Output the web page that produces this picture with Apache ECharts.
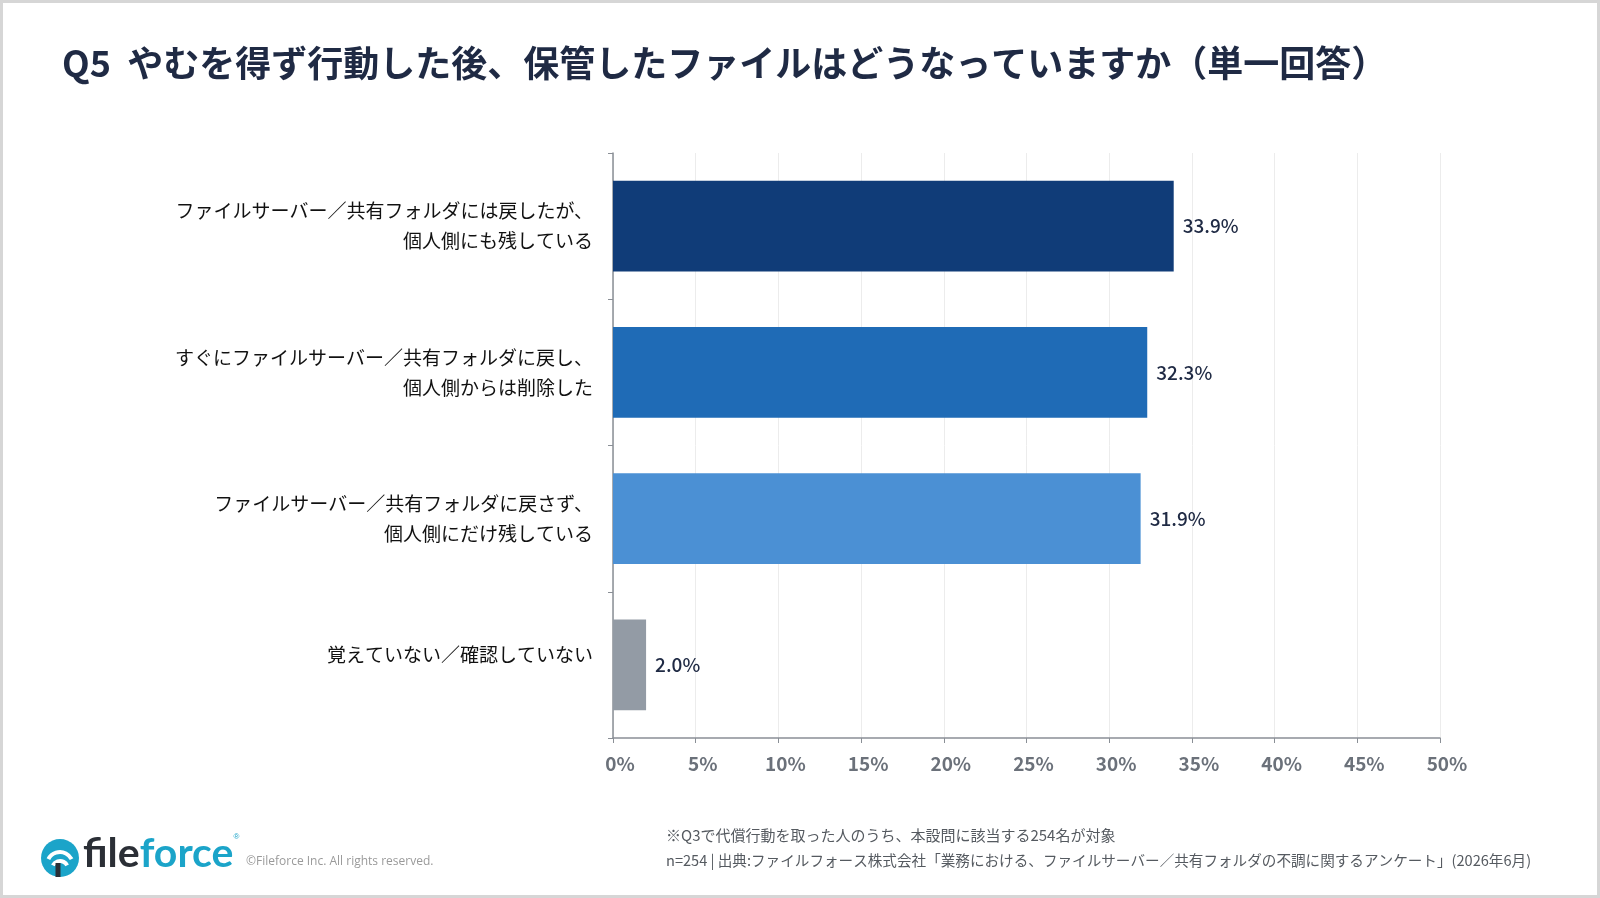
<!DOCTYPE html>
<html>
<head>
<meta charset="utf-8">
<script src="https://cdn.jsdelivr.net/npm/echarts@6/dist/echarts.min.js"></script>
<style>
  html, body { margin: 0; padding: 0; background: #fff; }
  #main { width: 1600px; height: 898px; box-sizing: border-box; border: 3px solid #d6d6d6; }
</style>
</head>
<body>
<div id="main"></div>
<script>
// 回答項目（上から順）
var categories = [
    'ファイルサーバー／共有フォルダには戻したが、\n個人側にも残している',
    'すぐにファイルサーバー／共有フォルダに戻し、\n個人側からは削除した',
    'ファイルサーバー／共有フォルダに戻さず、\n個人側にだけ残している',
    '覚えていない／確認していない'
];
var values = [33.9, 32.3, 31.9, 2.0];
var barColors = ['#103c78', '#1f6bb6', '#4b90d4', '#939ba5'];
var xTicks = [0, 5, 10, 15, 20, 25, 30, 35, 40, 45, 50];

var FONT = '"Noto Sans CJK JP", "Noto Sans", sans-serif';
var chart = echarts.init(document.getElementById('main'));

var option = {
    backgroundColor: '#fff',
    textStyle: { fontFamily: FONT },
    title: {
        text: 'Q5  やむを得ず行動した後、保管したファイルはどうなっていますか（単一回答）',
        left: 54,
        top: 37,
        textStyle: { fontSize: 36, fontWeight: 'bold', color: '#1f2a44', fontFamily: FONT }
    },
    grid: { left: 610, right: 157, top: 150, bottom: 157 },
    xAxis: {
        type: 'value',
        min: xTicks[0],
        max: xTicks[xTicks.length - 1],
        interval: 5,
        axisLine: { show: true, lineStyle: { color: '#8a8f96', width: 1.5 } },
        axisTick: { show: true, length: 5, lineStyle: { color: '#8a8f96' } },
        axisLabel: {
            margin: 16,
            padding: [0, 0, 0, 14],
            fontSize: 19,
            fontWeight: 'bold',
            color: '#6b717a',
            formatter: '{value}%'
        },
        splitLine: { show: true, lineStyle: { color: '#ececec' } }
    },
    yAxis: {
        type: 'category',
        inverse: true,
        data: categories,
        axisLine: { show: true, lineStyle: { color: '#8a8f96', width: 1.5 } },
        axisTick: { show: true, length: 5, lineStyle: { color: '#8a8f96' } },
        axisLabel: {
            margin: 20,
            fontSize: 19,
            lineHeight: 30,
            color: '#111111',
            align: 'right',
            // 1行ラベルは少し上寄せで表示されている
            formatter: function (v) {
                return v.indexOf('\n') < 0 ? '{s|' + v + '}' : v;
            },
            rich: {
                s: { fontSize: 19, lineHeight: 30, color: '#111111', padding: [0, 0, 20, 0] }
            }
        }
    },
    series: [{
        type: 'bar',
        barCategoryGap: '38%',
        data: values.map(function (v, i) {
            return { value: v, itemStyle: { color: barColors[i] } };
        }),
        label: {
            show: true,
            position: 'right',
            distance: 9,
            fontSize: 19,
            fontWeight: 500,
            color: '#1f2a44',
            formatter: function (p) { return p.value.toFixed(1) + '%'; }
        }
    }],
    graphic: [
        // ロゴアイコン（簡略）
        { type: 'circle', shape: { cx: 57, cy: 855, r: 19 }, style: { fill: '#1ba4c9' } },
        { type: 'arc', shape: { cx: 57, cy: 862, r: 13, startAngle: Math.PI * 1.15, endAngle: Math.PI * 1.85 }, style: { stroke: '#fff', lineWidth: 4, fill: null } },
        { type: 'arc', shape: { cx: 57, cy: 866, r: 8, startAngle: Math.PI * 1.15, endAngle: Math.PI * 1.85 }, style: { stroke: '#fff', lineWidth: 4, fill: null } },
        { type: 'line', shape: { x1: 55, y1: 860, x2: 55, y2: 874 }, style: { stroke: '#2b2f36', lineWidth: 5 } },
        {
            type: 'text', left: 80, top: 830,
            style: {
                text: '{a|file}{b|force}{r|®}',
                rich: {
                    a: { fontFamily: 'Lato, sans-serif', fontSize: 41, fontWeight: 'bold', fill: '#2b2f36' },
                    b: { fontFamily: 'Lato, sans-serif', fontSize: 41, fontWeight: 'bold', fill: '#1ba4c9' },
                    r: { fontSize: 8, fill: '#1ba4c9', verticalAlign: 'top' }
                }
            }
        },
        {
            type: 'text', left: 243, top: 853,
            style: { text: '©Fileforce Inc. All rights reserved.', fontFamily: '"Open Sans", sans-serif', fontSize: 12, fill: '#9a9a9a' }
        },
        {
            type: 'text', left: 663, top: 825,
            style: { text: '※Q3で代償行動を取った人のうち、本設問に該当する254名が対象', fontFamily: FONT, fontSize: 15, fill: '#555a60' }
        },
        {
            type: 'text', left: 663, top: 850,
            style: { text: 'n=254 | 出典:ファイルフォース株式会社「業務における、ファイルサーバー／共有フォルダの不調に関するアンケート」(2026年6月)', fontFamily: FONT, fontSize: 14.6, fill: '#555a60' }
        }
    ]
};

chart.setOption(option);
</script>
</body>
</html>
